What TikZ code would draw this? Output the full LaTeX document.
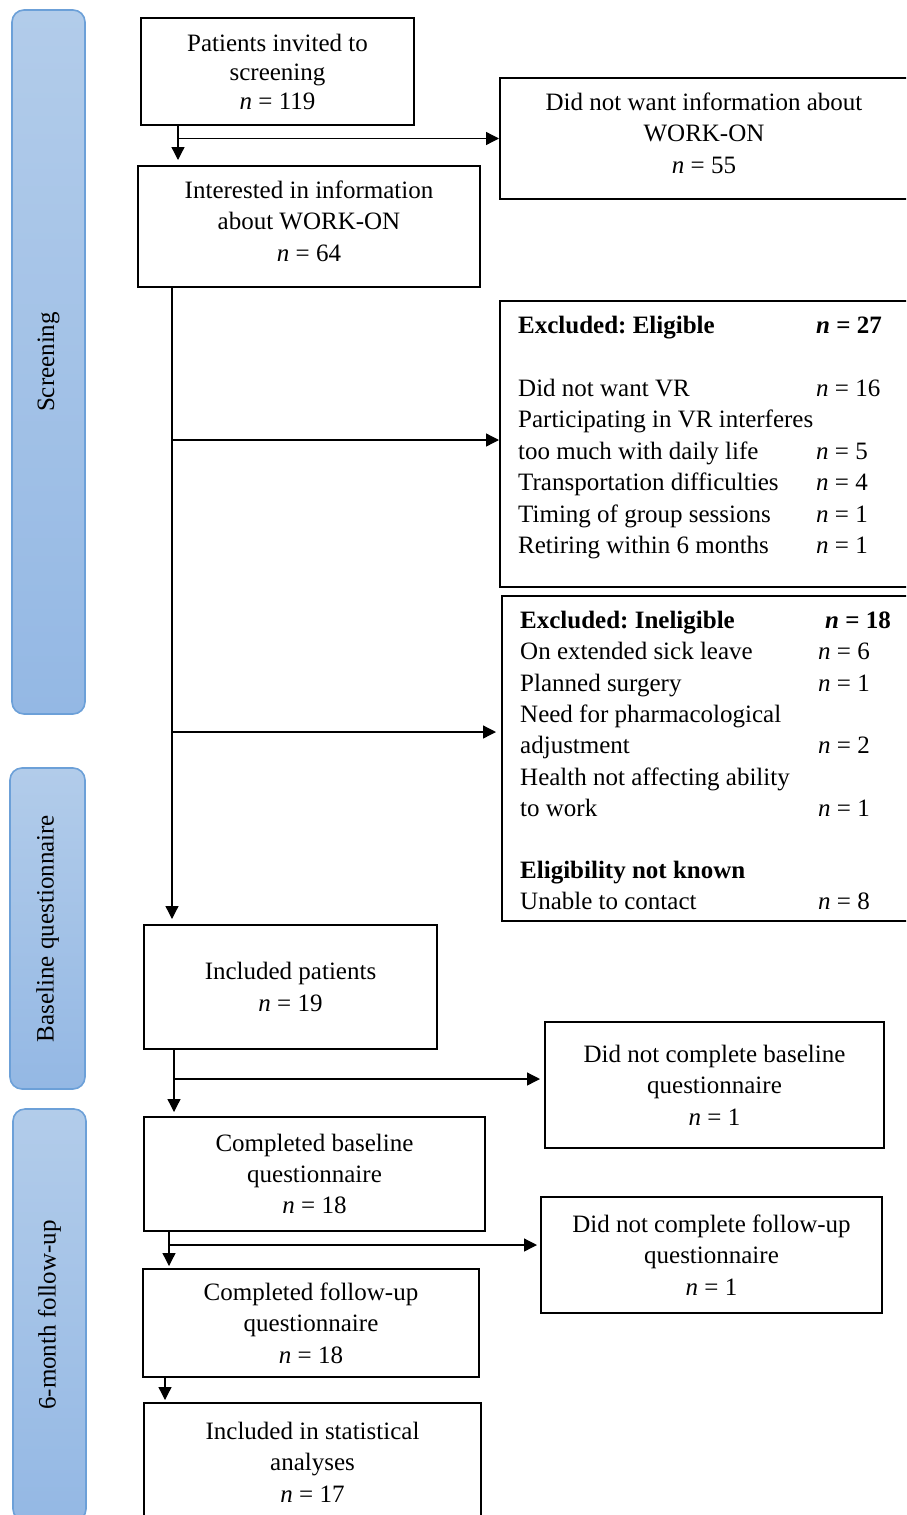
\documentclass[tikz,border=0pt]{standalone}
\usepackage{fontspec}
\setmainfont{Liberation Serif}
\frenchspacing
\usetikzlibrary{arrows.meta,calc}
\definecolor{bartop}{RGB}{178,204,234}
\definecolor{barbot}{RGB}{148,184,228}
\definecolor{barline}{RGB}{108,160,216}
\newcommand{\nn}{\textit{n}}
\begin{document}
\begin{tikzpicture}[x=1pt,y=-1pt,
  box/.style={draw=black,line width=2pt,inner sep=0pt,align=center,
    font=\fontsize{25}{31.4}\selectfont},
  bar/.style={draw=barline,line width=1.6pt,rounded corners=12pt,
    top color=bartop,bottom color=barbot},
  barlabel/.style={rotate=90,inner sep=0pt,font=\fontsize{25}{30}\selectfont},
  arr/.style={line width=1.3pt,-{Triangle[length=13pt,width=13pt]}},
  lt/.style={anchor=base west,inner sep=0pt,font=\fontsize{25}{30}\selectfont}]
\useasboundingbox (0,0) rectangle (906,1515);
\clip (0,0) rectangle (906,1515);
\fill[white] (0,0) rectangle (906,1515);
% side bars
\path[bar] (12,10) rectangle (85,714);
\path[bar] (10,768) rectangle (85,1089);
\path[bar] (13,1109) rectangle (86,1521);
\node[barlabel] (sl1) at (48.5,362) {Screening};
\node[barlabel] (sl2) at (47.5,928.5) {Baseline questionnaire};
\node[barlabel] (sl3) at (49.5,1315) {6-month follow-up};
% main boxes
\node[box,minimum width=273,minimum height=107,font=\fontsize{25}{29}\selectfont] (p1) at (277.5,71.5)
  {Patients invited to\\screening\\\nn{} = 119};
\node[box,minimum width=408,minimum height=121,text depth=11pt] (nowant) at (704,138.5)
  {Did not want information about\\WORK-ON\\\nn{} = 55};
\node[box,minimum width=342,minimum height=121,text depth=11pt] (int) at (309,226.5)
  {Interested in information\\about WORK-ON\\\nn{} = 64};
\node[box,minimum width=410,minimum height=286] (elig) at (705,444) {};
\node[box,minimum width=408,minimum height=325] (inel) at (706,758.5) {};
\node[box,minimum width=293,minimum height=124] (incl) at (290.5,987)
  {Included patients\\\nn{} = 19};
\node[box,minimum width=339,minimum height=126] (ncb) at (714.5,1085)
  {Did not complete baseline\\questionnaire\\\nn{} = 1};
\node[box,minimum width=341,minimum height=114] (cb) at (314.5,1174)
  {Completed baseline\\questionnaire\\\nn{} = 18};
\node[box,minimum width=341,minimum height=116] (ncf) at (711.5,1255)
  {Did not complete follow-up\\questionnaire\\\nn{} = 1};
\node[box,minimum width=336,minimum height=108] (cf) at (311,1323)
  {Completed follow-up\\questionnaire\\\nn{} = 18};
\node[box,minimum width=337,minimum height=118] (stat) at (312.5,1462)
  {Included in statistical\\analyses\\\nn{} = 17};
% eligible box text
\node[lt] (e1) at (518,333) {\textbf{Excluded: Eligible}};
\node[lt] (e1n) at (816,333) {\textbf{\textit{n} = 27}};
\node[lt] (e2) at (518,396) {Did not want VR};
\node[lt] (e2n) at (816,396) {\nn{} = 16};
\node[lt] (e3) at (518,427) {Participating in VR interferes};
\node[lt] (e4) at (518,459) {too much with daily life};
\node[lt] (e4n) at (816,459) {\nn{} = 5};
\node[lt] (e5) at (518,490) {Transportation difficulties};
\node[lt] (e5n) at (816,490) {\nn{} = 4};
\node[lt] (e6) at (518,522) {Timing of group sessions};
\node[lt] (e6n) at (816,522) {\nn{} = 1};
\node[lt] (e7) at (518,553) {Retiring within 6 months};
\node[lt] (e7n) at (816,553) {\nn{} = 1};
% ineligible box text
\node[lt] (i1) at (520,628) {\textbf{Excluded: Ineligible}};
\node[lt] (i1n) at (825,628) {\textbf{\textit{n} = 18}};
\node[lt] (i2) at (520,659) {On extended sick leave};
\node[lt] (i2n) at (818,659) {\nn{} = 6};
\node[lt] (i3) at (520,691) {Planned surgery};
\node[lt] (i3n) at (818,691) {\nn{} = 1};
\node[lt] (i4) at (520,722) {Need for pharmacological};
\node[lt] (i5) at (520,753) {adjustment};
\node[lt] (i5n) at (818,753) {\nn{} = 2};
\node[lt] (i6) at (520,785) {Health not affecting ability};
\node[lt] (i7) at (520,816) {to work};
\node[lt] (i7n) at (818,816) {\nn{} = 1};
\node[lt] (i8) at (520,878) {\textbf{Eligibility not known}};
\node[lt] (i9) at (520,909) {Unable to contact};
\node[lt] (i9n) at (818,909) {\nn{} = 8};
% spine coordinates
\coordinate (a1) at (178,0);
\coordinate (a2) at (172,0);
\coordinate (a3) at (174,0);
\coordinate (a4) at (169,0);
\coordinate (a5) at (165,0);
\coordinate (b1) at (172,440);
\coordinate (b2) at (172,732);
\coordinate (b3) at (174,1079);
\coordinate (b4) at (169,1245);
% connectors
\draw[arr,shorten >=5pt] (p1.south -| a1) -- (int.north -| a1);
\draw[arr] (p1.south -| a1) |- (nowant.west);
\draw[arr,shorten >=5pt] (int.south -| a2) -- (incl.north -| a2);
\draw[arr] (b1) -- (b1 -| elig.west);
\draw[arr,shorten >=5pt] (b2) -- (b2 -| inel.west);
\draw[arr,shorten >=4pt] (incl.south -| a3) -- (cb.north -| a3);
\draw[arr,shorten >=4pt] (b3) -- (b3 -| ncb.west);
\draw[arr,shorten >=2pt] (cb.south -| a4) -- (cf.north -| a4);
\draw[arr,shorten >=3pt] (b4) -- (b4 -| ncf.west);
\draw[arr,shorten >=2pt] (cf.south -| a5) -- (stat.north -| a5);
\end{tikzpicture}
\end{document}
